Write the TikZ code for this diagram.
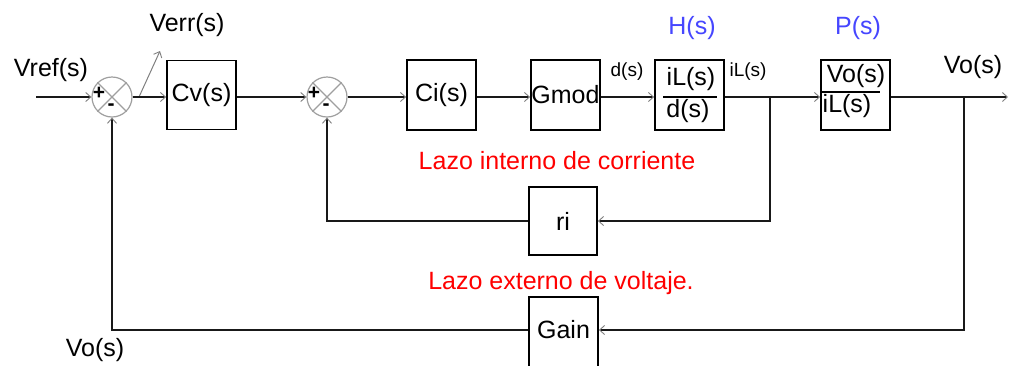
\documentclass[tikz,border=0pt]{standalone}
\usepackage{fontspec}
\setmainfont{Liberation Sans}
\usetikzlibrary{arrows.meta}
\definecolor{hblue}{RGB}{70,70,255}
\definecolor{lred}{RGB}{255,0,0}
\begin{document}
\begin{tikzpicture}[x=1pt,y=-1pt,
  blk/.style={draw=black,line width=1.8pt,minimum width=69pt,minimum height=70pt,inner sep=0pt,font=\fontsize{25}{30}\selectfont},
  txt/.style={inner sep=0pt,font=\fontsize{25}{30}\selectfont},
  small/.style={inner sep=0pt,font=\fontsize{19}{22}\selectfont},
  sgn/.style={inner sep=0pt,font=\fontsize{21}{22}\selectfont\bfseries},
  sumc/.style={circle,draw=gray!75,line width=1.2pt,minimum size=40pt,inner sep=0pt},
  wire/.style={line width=1.8pt,draw=black!90},
  arr/.style={wire,-{Straight Barb[length=5pt,width=9pt,line width=0.9pt,color=gray]}},
  thinarr/.style={line width=1pt,draw=gray,-{Straight Barb[length=5pt,width=9pt,line width=0.9pt]}},
]
\clip (0,0) rectangle (1010,365);
\fill[white] (0,0) rectangle (1010,365);

% input and first summing junction
\node[txt] (vref) at (51,70) {Vref(s)};
\coordinate (in) at (36,97);
\node[sumc] (s1) at (112,97) {};
\draw[gray!75,line width=1.2pt] (s1.north west) -- (s1.south east) (s1.north east) -- (s1.south west);
\node[sgn] (p1) at (99,93) {+};
\node[sgn] (m1) at (111,107) {-};

\node[txt] (verr) at (187,25) {Verr(s)};
\coordinate (verrs) at (139,97);
\coordinate (verre) at (160,51);
\draw[thinarr] (verrs) -- (verre);

\node[blk,minimum height=69pt] (cv) at (201.5,95) {Cv(s)};

% second summing junction
\node[sumc] (s2) at (327,97) {};
\draw[gray!75,line width=1.2pt] (s2.north west) -- (s2.south east) (s2.north east) -- (s2.south west);
\node[sgn] (p2) at (314,93) {+};
\node[sgn] (m2) at (326,107) {-};

\node[blk] (ci) at (441.5,95) {Ci(s)};
\node[blk] (gmod) at (565.5,95) {Gmod};

% H(s)
\node[small] (dl) at (627,72) {d(s)};
\node[txt,text=hblue] (hl) at (692,28) {H(s)};
\node[blk] (H) at (689.5,95) {};
\node[txt] (hn) at (691,79) {iL(s)};
\node[txt] (hd) at (688,111) {d(s)};
\coordinate (hb1) at (663,97);
\coordinate (hb2) at (717,97);
\draw[line width=1.8pt] (hb1) -- (hb2);
\node[small] (il) at (748,72) {iL(s)};

% P(s)
\node[txt,text=hblue] (pl) at (858,28) {P(s)};
\node[blk] (P) at (855.5,95) {};
\node[txt] (pn) at (856,76) {Vo(s)};
\node[txt] (pd) at (847,106) {iL(s)};
\coordinate (pb1) at (821,92);
\coordinate (pb2) at (880,92);
\draw[line width=1.8pt] (pb1) -- (pb2);

% output
\node[txt] (vo) at (973,67) {Vo(s)};
\coordinate (out) at (1008,97);
\coordinate (bi) at (770,97);
\coordinate (bo) at (964,97);

% inner loop
\node[txt,text=lred] (li) at (557,161) {Lazo interno de corriente};
\node[blk,minimum width=68pt,minimum height=68pt] (ri) at (563,221) {ri};

% outer loop
\node[txt,text=lred] (le) at (561,283) {Lazo externo de voltaje.};
\node[blk,minimum height=80pt] (gain) at (563.5,337) {};
\node[txt] (gaint) at (563.5,330) {Gain};
\node[txt] (vob) at (95,350) {Vo(s)};

% connectors
\draw[arr] (in) -- (s1.west);
\draw[arr] (s1.east) -- (s1.east -| cv.west);
\draw[arr] (cv.east |- s2) -- (s2.west);
\draw[arr] (s2.east) -- (s2.east -| ci.west);
\draw[arr] (ci.east |- s2) -- (s2 -| gmod.west);
\draw[arr] (gmod.east |- s2) -- (s2 -| H.west);
\draw[arr] (H.east |- s2) -- (s2 -| P.west);
\draw[arr] (P.east |- s2) -- (out);
\draw[arr] (bi) |- (ri.east);
\draw[arr] (ri.west) -| (s2.south);
\draw[arr] (bo) |- (gain.east |- gaint);
\draw[arr] (gain.west |- gaint) -| (s1.south);
\end{tikzpicture}
\end{document}
